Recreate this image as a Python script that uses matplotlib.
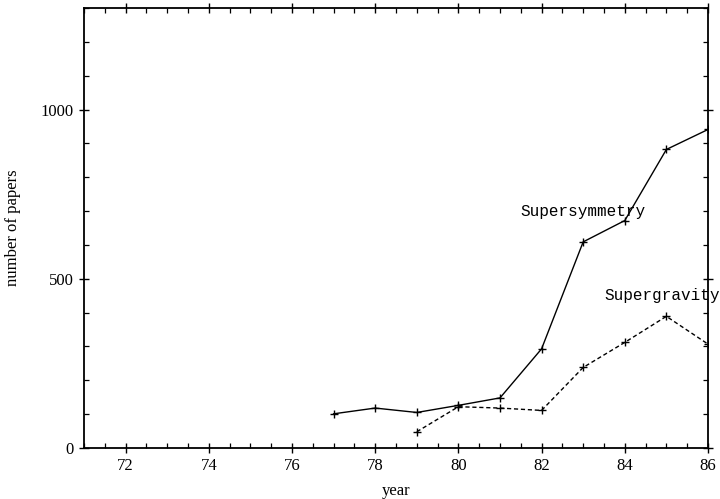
import matplotlib
matplotlib.use("Agg")
import matplotlib.pyplot as plt
from matplotlib.ticker import MultipleLocator

years_susy = [77, 78, 79, 80, 81, 82, 83, 84, 85, 86]
papers_susy = [101, 118, 105, 126, 148, 293, 609, 672, 882, 941]

years_sugra = [79, 80, 81, 82, 83, 84, 85, 86]
papers_sugra = [48, 122, 118, 111, 238, 312, 389, 307]

x_ticks = [72, 74, 76, 78, 80, 82, 84, 86]
y_ticks = [0, 500, 1000]

plt.rcParams["font.family"] = ["Liberation Serif", "DejaVu Serif"]

fig = plt.figure(figsize=(7.2, 4.99), dpi=100)
ax = fig.add_axes([0.1167, 0.1022, 0.8666, 0.8818])

ax.plot(years_susy, papers_susy, color="black", linewidth=1.0,
        marker="+", markersize=6, markeredgewidth=1.0)
ax.plot(years_sugra, papers_sugra, color="black", linewidth=1.0,
        linestyle=(0, (3, 2)), marker="+", markersize=6, markeredgewidth=1.0)

ax.text(81.5, 698, "Supersymmetry", family="Liberation Mono", fontsize=11.5,
        va="center", ha="left", clip_on=False)
ax.text(83.5, 450, "Supergravity", family="Liberation Mono", fontsize=11.5,
        va="center", ha="left", clip_on=False)

ax.set_xlim(71, 86)
ax.set_ylim(0, 1300)
ax.set_xticks(x_ticks)
ax.set_yticks(y_ticks)
ax.xaxis.set_minor_locator(MultipleLocator(0.5))
ax.yaxis.set_minor_locator(MultipleLocator(100))

ax.tick_params(which="major", direction="inout", length=7, width=1.0,
               top=True, right=True, labelsize=12, pad=4)
ax.tick_params(which="minor", direction="in", length=3.5, width=0.9,
               top=True, right=True)
for s in ax.spines.values():
    s.set_linewidth(1.3)

ax.set_xlabel("year", fontsize=12, labelpad=6)
ax.set_ylabel("number of papers", fontsize=12, labelpad=14)

fig.savefig("out.png", dpi=100)
